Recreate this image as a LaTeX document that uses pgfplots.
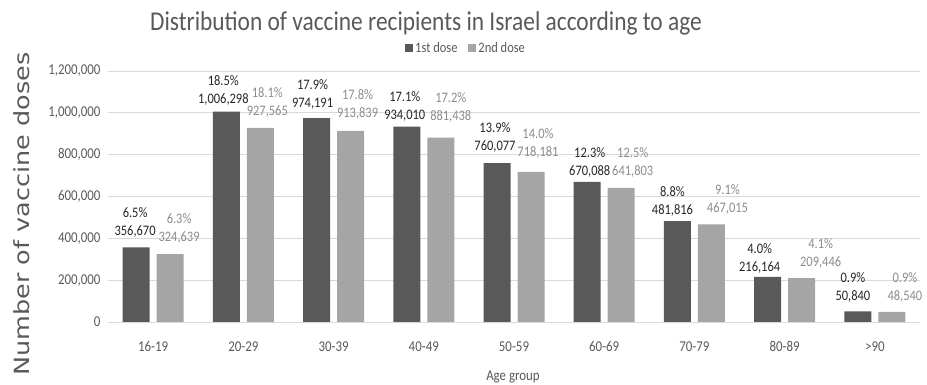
\documentclass[border=0pt]{standalone}
\usepackage{pgfplots}
\pgfplotsset{compat=1.18}
\usepackage{pgfplotstable}
\usepackage{fontspec}
\setmainfont{Carlito}[FakeStretch=0.86]
\newfontfamily\ylabfont{DejaVu Sans}
\definecolor{cfirst}{HTML}{595959}
\definecolor{csecond}{HTML}{A5A5A5}
\definecolor{ctext}{HTML}{595959}
\definecolor{cgrid}{HTML}{D9D9D9}
\definecolor{lfirst}{HTML}{262626}
\definecolor{lsecond}{HTML}{8C8C8C}

\pgfplotstableread{
x y dx dy lab
0 356670 -1 25 {6.5\%\\356,670}
1 1006298 -3 21 {18.5\%\\1,006,298}
2 974191 -4 23.5 {17.9\%\\974,191}
3 934010 -2 20 {17.1\%\\934,010}
4 760077 -2 25.5 {13.9\%\\760,077}
5 670088 2.5 19.5 {12.3\%\\670,088}
6 481816 -5 20 {8.8\%\\481,816}
7 216164 -8 18 {4.0\%\\216,164}
8 50840 -5 23.5 {0.9\%\\50,840}
}\firstdose

\pgfplotstableread{
x y dx dy lab
0 324639 9 25.5 {6.3\%\\324,639}
1 927565 7 25.5 {18.1\%\\927,565}
2 913839 7 26.5 {17.8\%\\913,839}
3 881438 10 30.5 {17.2\%\\881,438}
4 718181 7 28 {14.0\%\\718,181}
5 641803 11.5 25.5 {12.5\%\\641,803}
6 467015 16 24.5 {9.1\%\\467,015}
7 209446 19 24.5 {4.1\%\\209,446}
8 48540 13 24.5 {0.9\%\\48,540}
}\seconddose

\begin{document}
\begin{tikzpicture}
\begin{axis}[
  scale only axis,
  width=812pt, height=251pt,
  xmin=-0.5, xmax=8.5,
  ymin=0, ymax=1200000,
  ybar=7pt, bar width=27pt,
  xtick={0,...,8},
  xticklabels={16-19,20-29,30-39,40-49,50-59,60-69,70-79,80-89,>90},
  ytick={0,200000,...,1200000},
  scaled y ticks=false,
  /pgf/number format/fixed,
  /pgf/number format/1000 sep={,},
  /pgf/number format/assume math mode=true,
  ticklabel style={font=\fontsize{15}{17}\selectfont, text=ctext},
  xticklabel style={yshift=-16pt},
  yticklabel style={xshift=-4pt},
  major tick length=0pt,
  axis line style={draw=none},
  ymajorgrids, grid style={cgrid, line width=0.8pt},
  clip=false,
  legend style={at={(0.441,1.092)}, anchor=center, legend columns=2, draw=none, fill=none,
    font=\fontsize{14.5}{16}\selectfont, text=ctext, inner sep=1pt,
    /tikz/every even column/.append style={column sep=9pt}},
  legend image code/.code={\fill[#1, draw=none] (0pt,-4pt) rectangle (8pt,4pt);},
  nodes near coords,
  point meta=explicit symbolic,
  visualization depends on={\thisrow{dx}\as\dx},
  visualization depends on={\thisrow{dy}\as\dy},
]
\addplot[fill=cfirst, draw=none,
  nodes near coords style={anchor=center, align=center, font=\fontsize{14.5}{18}\selectfont, text=lfirst, xshift=\dx pt, yshift=\dy pt}]
  table[x=x, y=y, meta=lab] {\firstdose};
\addlegendentry{1st dose}
\addplot[fill=csecond, draw=none,
  nodes near coords style={anchor=center, align=center, font=\fontsize{14.5}{18}\selectfont, text=lsecond, xshift=\dx pt, yshift=\dy pt}]
  table[x=x, y=y, meta=lab] {\seconddose};
\addlegendentry{2nd dose}
\end{axis}
\node[font=\fontsize{27.2}{30}\selectfont, text=ctext] at (318pt,299pt) {Distribution of vaccine recipients in Israel according to age};
\node[font=\fontsize{15}{17}\selectfont, text=ctext] at (405pt,-55pt) {Age group};
\node[text=ctext, rotate=90, inner sep=0pt] at (-86pt,108pt) {\scalebox{1}[0.82]{\ylabfont\fontsize{25.5}{30}\selectfont Number of vaccine doses}};
\pgfresetboundingbox
\path[use as bounding box] (-108pt,-63pt) rectangle (819pt,322pt);
\end{tikzpicture}
\end{document}
